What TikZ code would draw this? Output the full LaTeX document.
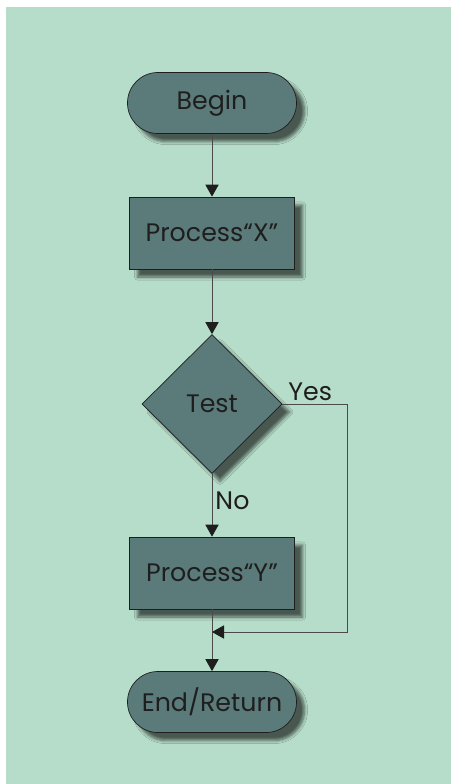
\documentclass[tikz,border=0pt]{standalone}
\usepackage{fontspec}
\setmainfont{Poppins}
\usetikzlibrary{shapes.geometric,shadows.blur,arrows.meta}

\definecolor{bgcol}{HTML}{B6DDC9}
\definecolor{boxcol}{HTML}{5B7B7A}
\definecolor{inkcol}{HTML}{1E1E1E}
\definecolor{linecol}{HTML}{4A4A4A}

\tikzset{
  base/.style={draw=inkcol,fill=boxcol,text=inkcol,line width=0.5pt,
    font=\fontsize{18}{21}\selectfont,
    blur shadow={shadow xshift=0.2cm,shadow yshift=-0.2cm,shadow blur steps=6,shadow opacity=60}},
  term/.style={base,rounded corners=0.76cm,minimum width=4.225cm,minimum height=1.525cm},
  proc/.style={base,minimum width=4.125cm,minimum height=1.8cm},
  test/.style={base,diamond,aspect=1,inner sep=0pt,minimum width=3.5cm,minimum height=3.475cm},
  flow/.style={draw=linecol,line width=0.7pt,-{Triangle[length=3mm,width=3.3mm,color=inkcol]}},
  lbl/.style={text=inkcol,font=\fontsize{18}{21}\selectfont,inner sep=0pt}
}

\begin{document}
\begin{tikzpicture}

\useasboundingbox (0,0) rectangle (11.275,-19.6);
\fill[bgcol] (0.15,-0.175) rectangle (11.275,-19.6);

\node[term]
(B)
at (5.3,-2.575)
{Begin};

\node[proc]
(X)
at (5.3,-5.825)
{Process“X”};

\node[test]
(T)
at (5.3,-10.1)
{Test};

\node[proc]
(Y)
at (5.3,-14.325)
{Process“Y”};

\node[term]
(E)
at (5.3,-17.55)
{End/Return};

\coordinate (yc) at (8.675,-10.1);
\coordinate (J) at (5.3,-15.8);

\node[lbl,anchor=south west]
(yes)
at (7.2,-10.02)
{Yes};

\node[lbl,anchor=west]
(no)
at (5.38,-12.525)
{No};

\draw[flow] (B) -- (X);
\draw[flow] (X) -- (T);
\draw[flow] (T) -- (Y);
\draw[flow] (Y) -- (E);
\draw[flow] (T.east) -- (yc) |- (J);

\end{tikzpicture}
\end{document}
